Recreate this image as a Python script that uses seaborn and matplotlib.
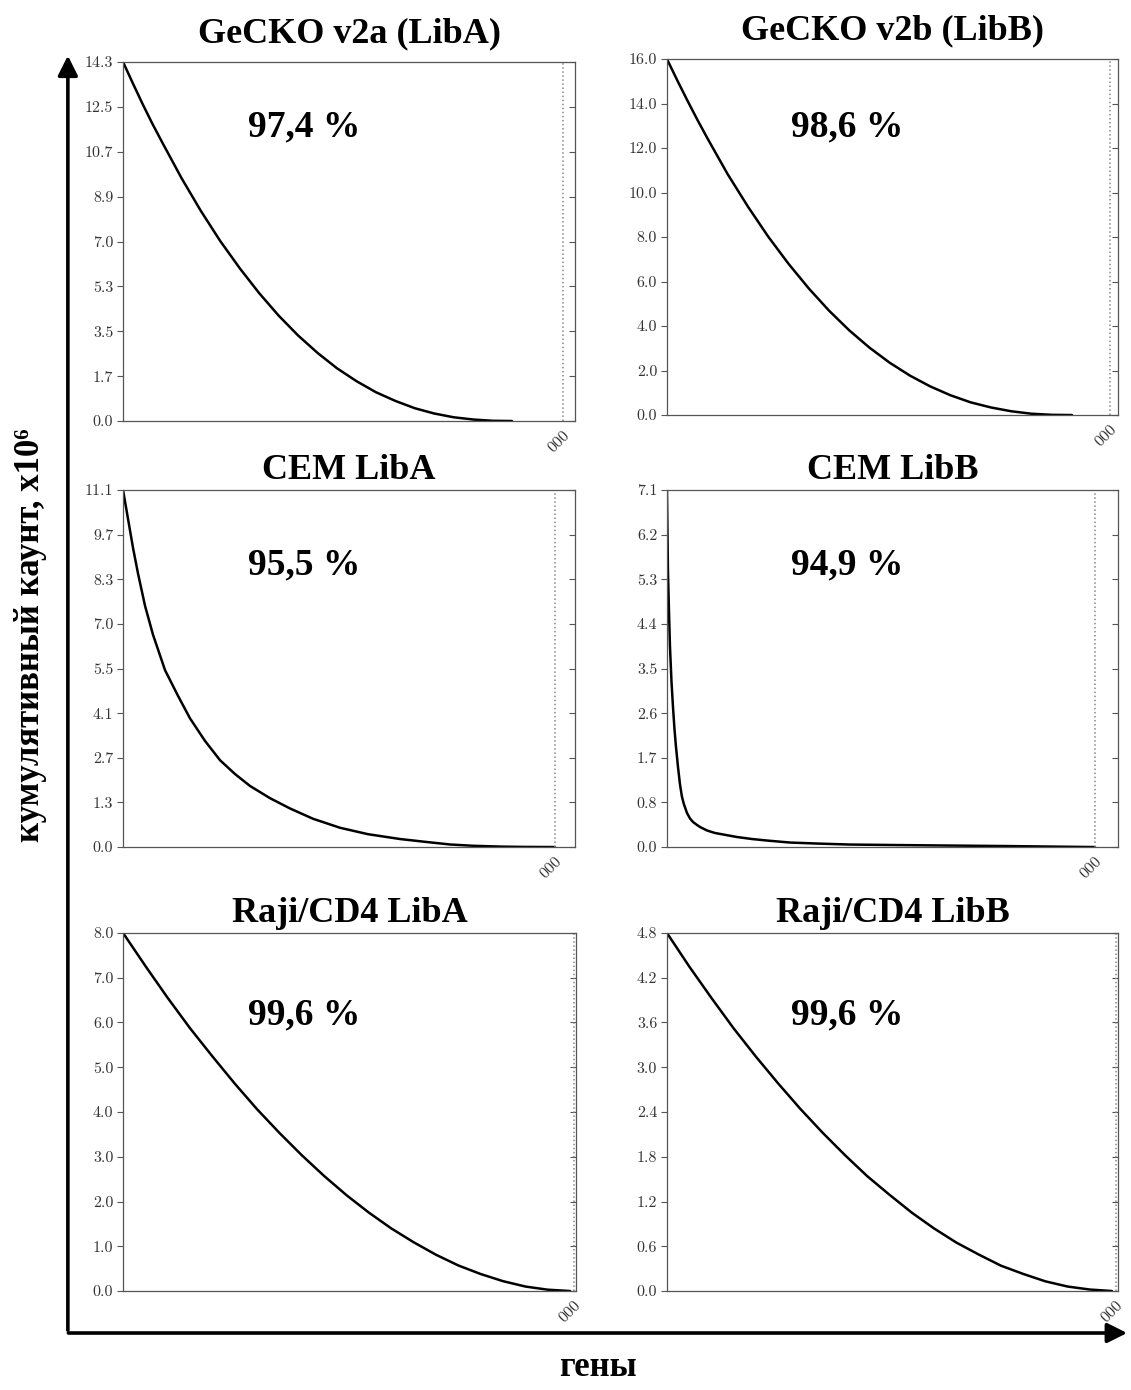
import matplotlib
matplotlib.use("Agg")
import matplotlib.pyplot as plt
import numpy as np
import pandas as pd
import seaborn as sns


# panel titles and library coverage
titles = ["GeCKO v2a (LibA)", "GeCKO v2b (LibB)", "CEM LibA", "CEM LibB",
          "Raji/CD4 LibA", "Raji/CD4 LibB"]
percents = ["97,4 %", "98,6 %", "95,5 %", "94,9 %", "99,6 %", "99,6 %"]

# number of genes (dotted line) and x range
n_genes = [19050, 19650, 19110, 18980, 19910, 19910]
x_max = [19580, 20000, 20000, 20000, 20000, 20000]

# cumulative counts (x10^6)
gecko_a_x = [0, 420, 840, 1260, 1690, 2530, 3370, 4210, 5060, 5900, 6740, 7580, 8430,
             9270, 10110, 10950, 11800, 12640, 13480, 14320, 15170, 16010, 16850]
gecko_a_y = [14.30, 13.46, 12.64, 11.86, 11.11, 9.68, 8.37, 7.17, 6.08, 5.09, 4.20, 3.41,
             2.71, 2.10, 1.59, 1.15, 0.80, 0.51, 0.30, 0.15, 0.06, 0.01, 0.0]

gecko_b_x = [0, 450, 900, 1350, 1800, 2690, 3590, 4490, 5390, 6290, 7180, 8080, 8980,
             9880, 10780, 11670, 12570, 13470, 14370, 15270, 16160, 17060, 17960]
gecko_b_y = [16.00, 15.06, 14.15, 13.27, 12.43, 10.83, 9.37, 8.02, 6.80, 5.69, 4.70, 3.81,
             3.03, 2.35, 1.77, 1.29, 0.89, 0.57, 0.34, 0.17, 0.06, 0.01, 0.0]

cem_a_x = [0, 221, 442, 664, 973, 1327, 1858, 2434, 2965, 3628, 4292, 4956, 5619, 6504,
           7389, 8407, 9602, 10841, 12257, 13274, 14469, 15487, 16681, 17699, 19115]
cem_a_y = [11.1, 10.2, 9.3, 8.5, 7.5, 6.6, 5.5, 4.7, 4.0, 3.3, 2.7, 2.27, 1.9, 1.52,
           1.2, 0.88, 0.6, 0.40, 0.25, 0.17, 0.08, 0.04, 0.015, 0.005, 0.0]

cem_b_x = [0, 44, 89, 133, 200, 266, 333, 399, 488, 577, 665, 754, 887, 1020, 1153, 1330,
           1464, 1774, 2129, 2616, 3104, 3769, 4435, 5455, 6652, 8115, 10200, 12550,
           15078, 16985, 18980]
cem_b_y = [7.1, 5.5, 4.7, 4.0, 3.3, 2.8, 2.35, 2.0, 1.6, 1.25, 1.0, 0.85, 0.68, 0.57,
           0.50, 0.44, 0.40, 0.33, 0.28, 0.24, 0.20, 0.16, 0.13, 0.09, 0.07, 0.05, 0.04,
           0.03, 0.02, 0.01, 0.0]

raji_a_x = [0, 990, 1970, 2960, 3950, 4940, 5920, 6910, 7900, 8880, 9870, 10860, 11840,
            12830, 13820, 14810, 15790, 16780, 17770, 18750, 19740]
raji_a_y = [8.00, 7.26, 6.55, 5.87, 5.24, 4.63, 4.06, 3.53, 3.03, 2.57, 2.14, 1.75, 1.40,
            1.09, 0.81, 0.57, 0.38, 0.22, 0.10, 0.03, 0.0]

raji_b_x = [0, 990, 1970, 2960, 3950, 4940, 5920, 6910, 7900, 8880, 9870, 10860, 11840,
            12830, 13820, 14810, 15790, 16780, 17770, 18750, 19730]
raji_b_y = [4.80, 4.35, 3.93, 3.52, 3.14, 2.78, 2.44, 2.12, 1.82, 1.54, 1.29, 1.05, 0.84,
            0.65, 0.49, 0.34, 0.23, 0.13, 0.06, 0.02, 0.0]

# y tick labels as printed
yt_gecko_a = ["0.0", "1.7", "3.5", "5.3", "7.0", "8.9", "10.7", "12.5", "14.3"]
yt_gecko_b = ["0.0", "2.0", "4.0", "6.0", "8.0", "10.0", "12.0", "14.0", "16.0"]
yt_cem_a = ["0.0", "1.3", "2.7", "4.1", "5.5", "7.0", "8.3", "9.7", "11.1"]
yt_cem_b = ["0.0", "0.8", "1.7", "2.6", "3.5", "4.4", "5.3", "6.2", "7.1"]
yt_raji_a = ["0.0", "1.0", "2.0", "3.0", "4.0", "5.0", "6.0", "7.0", "8.0"]
yt_raji_b = ["0.0", "0.6", "1.2", "1.8", "2.4", "3.0", "3.6", "4.2", "4.8"]
y_max = [14.3, 16.0, 11.1, 7.1, 8.0, 4.8]

curves = [(gecko_a_x, gecko_a_y), (gecko_b_x, gecko_b_y), (cem_a_x, cem_a_y),
          (cem_b_x, cem_b_y), (raji_a_x, raji_a_y), (raji_b_x, raji_b_y)]
ytick_labels = [yt_gecko_a, yt_gecko_b, yt_cem_a, yt_cem_b, yt_raji_a, yt_raji_b]

sns.set_style("white")
plt.rcParams["font.family"] = ["Liberation Serif", "DejaVu Serif"]
plt.rcParams["text.color"] = "black"

fig = plt.figure(figsize=(11.31, 13.9), dpi=100)

# axes boxes [left, bottom, width, height] in figure fraction
boxes = [
    [0.1088, 0.6971, 0.3996, 0.2583],
    [0.5897, 0.7014, 0.3988, 0.2561],
    [0.1088, 0.3906, 0.3996, 0.2568],
    [0.5897, 0.3906, 0.3988, 0.2568],
    [0.1088, 0.0712, 0.4005, 0.2576],
    [0.5897, 0.0712, 0.3988, 0.2576],
]
title_pad = [14, 14, 8, 8, 8, 8]
pct_y = [0.82, 0.81, 0.79, 0.79, 0.77, 0.77]

for i in range(6):
    ax = fig.add_axes(boxes[i])
    gx, gy = curves[i]
    df = pd.DataFrame({"genes": gx, "count": gy})
    sns.lineplot(data=df, x="genes", y="count", ax=ax, color="black", lw=1.8)
    ax.axvline(n_genes[i], color="#888888", ls=":", lw=1.1)

    ax.set_xlim(0, x_max[i])
    ax.set_ylim(0, y_max[i])
    ax.set_xlabel("")
    ax.set_ylabel("")
    for sp in ax.spines.values():
        sp.set_color("#555555")
        sp.set_linewidth(0.9)

    ax.set_yticks(np.linspace(0, y_max[i], 9))
    ax.set_yticklabels(ytick_labels[i], fontfamily="cmr10", fontsize=11.5, color="#333333")
    ax.set_xticks([n_genes[i]])
    ax.set_xticklabels(["000"], fontfamily="cmr10", fontsize=11.5, color="#333333",
                       rotation=45, ha="right", va="top", rotation_mode="anchor")
    ax.tick_params(axis="y", left=True, right=True, direction="out", length=4,
                   width=0.8, color="#555555", pad=3)
    ax.tick_params(axis="x", bottom=True, length=0, pad=5)
    # right-side ticks point inward
    for t in ax.yaxis.get_major_ticks():
        t.tick2line.set_marker(0)

    ax.set_title(titles[i], fontsize=26, fontweight="bold", pad=title_pad[i], color="black")
    ax.text(0.40, pct_y[i], percents[i], transform=ax.transAxes, fontsize=27,
            fontweight="bold", ha="center", va="center", color="black")

# big axis arrows
fig.add_artist(matplotlib.patches.FancyArrowPatch(
    (0.060, 0.041), (0.060, 0.962), transform=fig.transFigure,
    arrowstyle="-|>,head_length=0.6,head_width=0.3", mutation_scale=20,
    lw=2.6, color="black"))
fig.add_artist(matplotlib.patches.FancyArrowPatch(
    (0.058, 0.041), (0.999, 0.041), transform=fig.transFigure,
    arrowstyle="-|>,head_length=0.6,head_width=0.3", mutation_scale=20,
    lw=2.6, color="black"))

fig.text(0.027, 0.543, "кумулятивный каунт, x10\u2076", rotation=90, fontsize=25,
         fontweight="bold", ha="center", va="center")
fig.text(0.529, 0.016, "гены", fontsize=25, fontweight="bold", ha="center", va="center")

fig.savefig("out.png", dpi=100, facecolor="white")
